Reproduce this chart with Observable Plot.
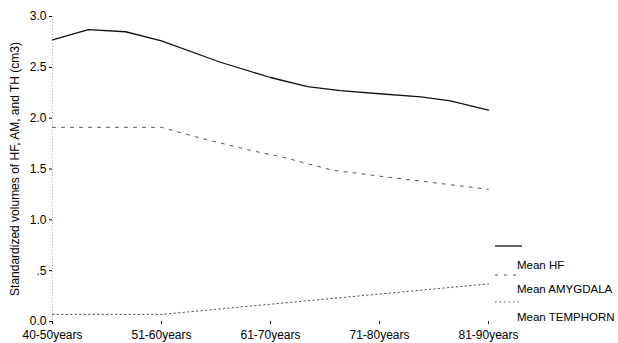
<!DOCTYPE html>
<html><head><meta charset="utf-8">
<script src="https://cdn.jsdelivr.net/npm/d3@7"></script>
<script src="https://cdn.jsdelivr.net/npm/@observablehq/plot@0.6"></script>
<style>body{margin:0;background:#fff}#c{font-family:"Liberation Sans",Arial,sans-serif}</style>
</head><body><div id="c"></div>
<script>
const categories = ["40-50years","51-60years","61-70years","71-80years","81-90years"];
const yTicks = [0, 0.5, 1, 1.5, 2, 2.5, 3];
const yTickLabels = ["0.0", ".5", "1.0", "1.5", "2.0", "2.5", "3.0"];
// positions along the age axis (category index, fractional where the curve bends)
const hfPos = [0, 0.33, 0.67, 1, 1.54, 2, 2.34, 2.64, 3, 3.38, 3.65, 4];
const hfVal = [2.77, 2.87, 2.85, 2.76, 2.55, 2.40, 2.31, 2.27, 2.24, 2.21, 2.17, 2.08];
const amPos = [0, 1, 1.37, 1.83, 2.1, 2.56, 3, 4];
const amVal = [1.91, 1.91, 1.80, 1.68, 1.62, 1.49, 1.43, 1.30];
const thPos = [0, 1, 2, 3, 4];
const thVal = [0.07, 0.07, 0.17, 0.27, 0.37];
const seriesNames = ["Mean HF", "Mean AMYGDALA", "Mean TEMPHORN"];

const hf = hfPos.map((x,i)=>({x, y: hfVal[i]}));
const am = amPos.map((x,i)=>({x, y: amVal[i]}));
const th = thPos.map((x,i)=>({x, y: thVal[i]}));

const plot = Plot.plot({
  width: 618, height: 343,
  marginLeft: 52, marginRight: 130, marginTop: 16, marginBottom: 22,
  style: {fontFamily: '"Liberation Sans", Arial, sans-serif', fontSize: "12px", color: "#000", background: "#fff"},
  x: {domain: [0, 4], ticks: [0,1,2,3,4], tickFormat: i => categories[i], tickSize: 3, tickPadding: 6, label: null},
  y: {domain: [0, 3], ticks: yTicks, tickFormat: v => yTickLabels[yTicks.indexOf(v)], tickSize: 3, tickPadding: 3,
      label: "Standardized volumes of HF, AM, and TH (cm3)", labelAnchor: "center", labelArrow: "none", labelOffset: 42},
  marks: [
    Plot.ruleX([0], {stroke: "#aaa", strokeDasharray: "1,2"}),
    Plot.line(th, {x: "x", y: "y", stroke: "#555", strokeWidth: 1, strokeDasharray: "1.5,3"}),
    Plot.line(am, {x: "x", y: "y", stroke: "#555", strokeWidth: 1, strokeDasharray: "3,6"}),
    Plot.line(hf, {x: "x", y: "y", stroke: "#111", strokeWidth: 1.3})
  ]
});
document.getElementById("c").appendChild(plot);

// legend in the right margin
const svg = d3.select(plot);
const leg = svg.append("g").attr("font-family", '"Liberation Sans", Arial, sans-serif').attr("font-size", 11.5)
  .attr("fill", "#000").attr("text-anchor", "start");
const styles = [{d: null, c: "#111", w: 1.3}, {d: "3,6", c: "#555", w: 1}, {d: "1.5,3", c: "#555", w: 1}];
const lineY = [246, 275, 302];
const textY = [269, 293, 321];
seriesNames.forEach((n, i) => {
  leg.append("line").attr("x1", 495).attr("x2", 522).attr("y1", lineY[i]).attr("y2", lineY[i])
    .attr("stroke", styles[i].c).attr("stroke-width", styles[i].w).attr("stroke-dasharray", styles[i].d);
  leg.append("text").attr("x", 517).attr("y", textY[i]).attr("text-anchor", "start").text(n);
});
</script></body></html>
